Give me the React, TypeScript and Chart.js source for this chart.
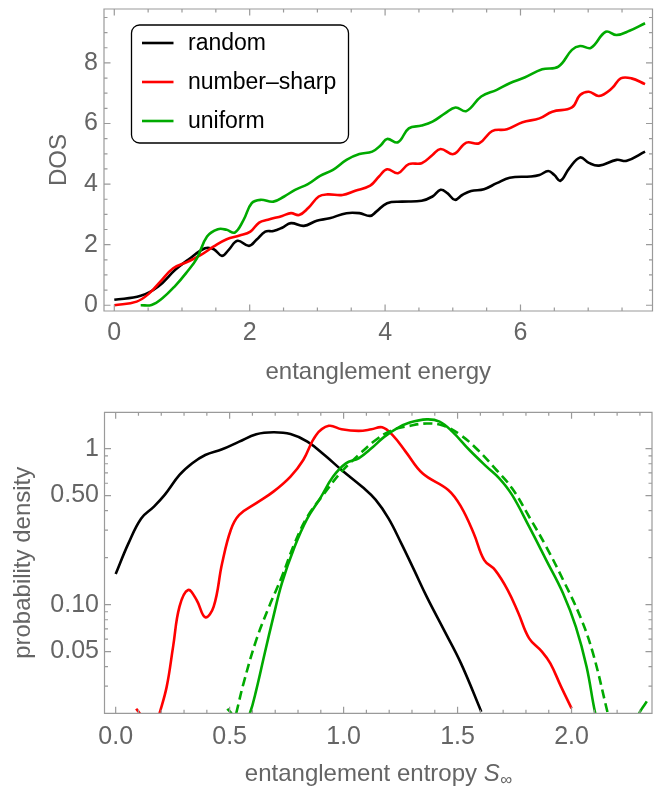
import React, { useEffect, useRef } from "react";
import { Chart, registerables } from "chart.js";

Chart.register(...registerables);

// ---------------- Top panel: density of states ----------------
const energyRandom = [0, 0.39, 0.65, 0.9, 1.09, 1.34, 1.47, 1.59, 1.69, 1.82, 1.99, 2.1, 2.23, 2.35, 2.48, 2.61, 2.8, 2.99, 3.18, 3.43, 3.62, 3.78, 3.87, 4.03, 4.25, 4.54, 4.7, 4.82, 4.92, 5.03, 5.14, 5.27, 5.46, 5.65, 5.84, 6.15, 6.28, 6.41, 6.5, 6.59, 6.72, 6.88, 7.01, 7.16, 7.42, 7.57, 7.84];
const dosRandom = [0.18, 0.31, 0.62, 1.17, 1.5, 1.88, 1.85, 1.63, 1.83, 2.13, 1.96, 2.16, 2.43, 2.45, 2.56, 2.71, 2.62, 2.79, 2.87, 3.04, 3.04, 2.95, 3.09, 3.37, 3.42, 3.45, 3.59, 3.81, 3.7, 3.48, 3.64, 3.77, 3.83, 4.03, 4.21, 4.25, 4.3, 4.43, 4.3, 4.11, 4.52, 4.88, 4.7, 4.61, 4.8, 4.77, 5.07];

const energySharp = [0, 0.33, 0.52, 0.68, 0.87, 1.09, 1.28, 1.47, 1.66, 1.85, 2.01, 2.14, 2.27, 2.48, 2.61, 2.73, 2.86, 3.02, 3.15, 3.37, 3.56, 3.78, 3.91, 4.03, 4.19, 4.35, 4.54, 4.7, 4.82, 5.01, 5.2, 5.39, 5.58, 5.8, 6.03, 6.28, 6.47, 6.76, 6.88, 7.01, 7.16, 7.35, 7.48, 7.64, 7.84];
const dosSharp = [0.0, 0.12, 0.4, 0.78, 1.22, 1.44, 1.66, 1.94, 2.18, 2.3, 2.43, 2.73, 2.82, 2.95, 3.04, 2.98, 3.2, 3.59, 3.66, 3.64, 3.78, 3.95, 4.25, 4.49, 4.36, 4.66, 4.69, 4.96, 5.16, 4.99, 5.37, 5.35, 5.75, 5.81, 6.04, 6.17, 6.39, 6.53, 6.94, 7.05, 6.91, 7.16, 7.49, 7.49, 7.3];

const energyUniform = [0.39, 0.55, 0.71, 0.9, 1.06, 1.22, 1.37, 1.53, 1.66, 1.78, 1.91, 2.03, 2.16, 2.35, 2.51, 2.67, 2.86, 3.04, 3.23, 3.43, 3.62, 3.81, 3.94, 4.03, 4.19, 4.35, 4.54, 4.7, 4.89, 5.04, 5.2, 5.42, 5.65, 5.84, 6.06, 6.32, 6.56, 6.76, 6.88, 7.04, 7.26, 7.42, 7.61, 7.84];
const dosUniform = [0.0, 0.01, 0.23, 0.64, 1.06, 1.55, 2.27, 2.51, 2.49, 2.4, 2.82, 3.37, 3.48, 3.42, 3.59, 3.81, 4.0, 4.27, 4.47, 4.8, 4.99, 5.07, 5.29, 5.49, 5.38, 5.84, 5.93, 6.06, 6.34, 6.53, 6.41, 6.89, 7.11, 7.33, 7.52, 7.79, 7.88, 8.43, 8.56, 8.5, 9.03, 8.92, 9.06, 9.31];

const energyTicks = [0, 2, 4, 6];
const energyMinorTicks = [0.5, 1, 1.5, 2.5, 3, 3.5, 4.5, 5, 5.5, 6.5, 7, 7.5];
const dosTicks = [0, 2, 4, 6, 8];
const dosMinorTicks = [0.5, 1, 1.5, 2.5, 3, 3.5, 4.5, 5, 5.5, 6.5, 7, 7.5, 8.5, 9, 9.5];

// ---------------- Bottom panel: entropy distribution ----------------
const entropyRandom = [0, 0.056, 0.112, 0.168, 0.215, 0.28, 0.336, 0.393, 0.467, 0.542, 0.617, 0.692, 0.767, 0.841, 0.916, 0.991, 1.084, 1.141, 1.197, 1.253, 1.309, 1.365, 1.44, 1.515, 1.604];
const densityRandom = [0.157, 0.247, 0.357, 0.425, 0.505, 0.678, 0.805, 0.91, 0.99, 1.109, 1.236, 1.273, 1.24, 1.109, 0.91, 0.73, 0.565, 0.469, 0.357, 0.247, 0.167, 0.112, 0.0688, 0.042, 0.0206];

const entropySharp = [0.09, 0.11, 0.15, 0.19, 0.224, 0.252, 0.28, 0.318, 0.355, 0.393, 0.43, 0.467, 0.505, 0.542, 0.617, 0.692, 0.767, 0.823, 0.879, 0.935, 0.991, 1.066, 1.122, 1.169, 1.215, 1.272, 1.346, 1.459, 1.515, 1.571, 1.617, 1.664, 1.72, 1.767, 1.814, 1.87, 1.907, 1.954, 2.0];
const densitySharp = [0.0215, 0.0195, 0.012, 0.0195, 0.0298, 0.0538, 0.097, 0.124, 0.107, 0.083, 0.097, 0.184, 0.301, 0.376, 0.447, 0.53, 0.662, 0.846, 1.22, 1.4, 1.33, 1.3, 1.33, 1.37, 1.22, 0.957, 0.695, 0.543, 0.425, 0.286, 0.193, 0.167, 0.124, 0.088, 0.0608, 0.05, 0.042, 0.0298, 0.0216];

const entropyUniform = [0.49, 0.51, 0.55, 0.589, 0.617, 0.654, 0.692, 0.729, 0.785, 0.841, 0.897, 0.954, 1.01, 1.066, 1.122, 1.178, 1.234, 1.29, 1.365, 1.421, 1.477, 1.552, 1.627, 1.683, 1.739, 1.814, 1.889, 1.963, 2.019, 2.066, 2.104, 2.2, 2.29, 2.33];
const densityUniform = [0.0215, 0.0198, 0.015, 0.0201, 0.0284, 0.0488, 0.0838, 0.137, 0.235, 0.357, 0.48, 0.662, 0.805, 0.867, 1.005, 1.19, 1.35, 1.47, 1.54, 1.49, 1.285, 0.98, 0.767, 0.645, 0.505, 0.316, 0.193, 0.118, 0.072, 0.04, 0.0201, 0.005, 0.019, 0.024];

const entropyUniformFit = [0.529, 0.561, 0.617, 0.673, 0.729, 0.785, 0.841, 0.916, 0.991, 1.066, 1.141, 1.215, 1.29, 1.365, 1.44, 1.514, 1.589, 1.664, 1.739, 1.814, 1.889, 1.963, 2.038, 2.094, 2.159];
const densityUniformFit = [0.0201, 0.0313, 0.0594, 0.097, 0.151, 0.247, 0.366, 0.517, 0.712, 0.91, 1.137, 1.318, 1.4, 1.45, 1.4, 1.22, 0.98, 0.748, 0.557, 0.366, 0.235, 0.144, 0.0838, 0.0488, 0.0201];

const entropyTicks = [0, 0.5, 1, 1.5, 2];
const entropyMinorTicks = [0.1, 0.2, 0.3, 0.4, 0.6, 0.7, 0.8, 0.9, 1.1, 1.2, 1.3, 1.4, 1.6, 1.7, 1.8, 1.9, 2.1, 2.2, 2.3];
const densityTicks = [0.05, 0.1, 0.5, 1];
const densityTickLabels = ["0.05", "0.10", "0.50", "1"];
const densityMinorTicks = [0.03, 0.04, 0.06, 0.07, 0.08, 0.09, 0.2, 0.3, 0.4, 0.6, 0.7, 0.8, 0.9];

const seriesLabels = ["random", "number\u2013sharp", "uniform"];

// ---------------- Styling ----------------
const FONT = '"Liberation Sans", Arial, Helvetica, sans-serif';
const TEXT = "#656565";
const FRAME = "#9a9a9a";
const BLACK = "#000000";
const RED = "#ff0000";
const GREEN = "#00aa00";
const TICK_SIZE = 25;
const TITLE_SIZE = 24;

Chart.defaults.font.family = FONT;

const toPoints = (xs: number[], ys: number[]) => xs.map((x, i) => ({ x, y: ys[i] }));

const noPad = (s: any) => {
  s.paddingTop = 0;
  s.paddingBottom = 0;
  s.paddingLeft = 0;
  s.paddingRight = 0;
};

const frameTicksPlugin = {
  id: "frameTicks",
  afterDatasetsDraw(chart: any, _args: any, opts: any) {
    const { ctx, chartArea: a, scales } = chart;
    const xs = scales.x;
    const ys = scales.y;
    ctx.save();
    ctx.strokeStyle = FRAME;
    ctx.lineWidth = 1.2;
    ctx.beginPath();
    ctx.rect(a.left, a.top, a.right - a.left, a.bottom - a.top);
    ctx.stroke();
    const drawX = (vals: number[], len: number) => {
      for (const v of vals) {
        const p = xs.getPixelForValue(v);
        ctx.beginPath();
        ctx.moveTo(p, a.bottom);
        ctx.lineTo(p, a.bottom - len);
        ctx.moveTo(p, a.top);
        ctx.lineTo(p, a.top + len);
        ctx.stroke();
      }
    };
    const drawY = (vals: number[], len: number) => {
      for (const v of vals) {
        const p = ys.getPixelForValue(v);
        ctx.beginPath();
        ctx.moveTo(a.left, p);
        ctx.lineTo(a.left + len, p);
        ctx.moveTo(a.right, p);
        ctx.lineTo(a.right - len, p);
        ctx.stroke();
      }
    };
    drawX(opts.xMajor || [], 6.5);
    drawX(opts.xMinor || [], 3.5);
    drawY(opts.yMajor || [], 6.5);
    drawY(opts.yMinor || [], 3.5);
    ctx.restore();
  },
};

const boxLegendPlugin = {
  id: "boxLegend",
  afterDraw(chart: any, _args: any, opts: any) {
    if (!opts || !opts.display) return;
    const { ctx, chartArea: a } = chart;
    const bx = a.left + opts.offsetX;
    const by = a.top + opts.offsetY;
    const bw = opts.width;
    const bh = opts.height;
    ctx.save();
    ctx.fillStyle = "#ffffff";
    ctx.strokeStyle = "#000000";
    ctx.lineWidth = 1.3;
    ctx.beginPath();
    ctx.roundRect(bx, by, bw, bh, 8);
    ctx.fill();
    ctx.stroke();
    ctx.font = `${opts.fontSize}px ${FONT}`;
    ctx.textBaseline = "middle";
    ctx.textAlign = "left";
    chart.data.datasets.forEach((ds: any, i: number) => {
      const cy = by + opts.firstRow + i * opts.rowGap;
      ctx.strokeStyle = ds.borderColor;
      ctx.lineWidth = 2.6;
      ctx.beginPath();
      ctx.moveTo(bx + 10.5, cy);
      ctx.lineTo(bx + 42, cy);
      ctx.stroke();
      ctx.fillStyle = "#000000";
      ctx.fillText(ds.label, bx + 56.5, cy + 1);
    });
    ctx.restore();
  },
};

const entropyTitlePlugin = {
  id: "entropyTitle",
  afterDraw(chart: any, _args: any, opts: any) {
    if (!opts || !opts.display) return;
    const { ctx, chartArea: a } = chart;
    const size = opts.fontSize;
    const main = "entanglement entropy ";
    ctx.save();
    ctx.fillStyle = TEXT;
    ctx.textBaseline = "alphabetic";
    ctx.textAlign = "left";
    ctx.font = `${size}px ${FONT}`;
    const w1 = ctx.measureText(main).width;
    ctx.font = `italic ${size}px ${FONT}`;
    const w2 = ctx.measureText("S").width;
    ctx.font = `${size * 0.7}px ${FONT}`;
    const w3 = ctx.measureText("\u221e").width;
    const total = w1 + w2 + w3;
    const cx = (a.left + a.right) / 2;
    let x = cx - total / 2;
    const base = a.bottom + opts.baselineOffset;
    ctx.font = `${size}px ${FONT}`;
    ctx.fillText(main, x, base);
    x += w1;
    ctx.font = `italic ${size}px ${FONT}`;
    ctx.fillText("S", x, base);
    x += w2;
    ctx.font = `${size * 0.7}px ${FONT}`;
    ctx.fillText("\u221e", x + 0.5, base + 4);
    ctx.restore();
  },
};

const lineDs = (label: string, xs: number[], ys: number[], color: string, order: number, dash?: number[]) => ({
  label,
  data: toPoints(xs, ys),
  borderColor: color,
  backgroundColor: color,
  borderWidth: 2.6,
  borderDash: dash || [],
  pointRadius: 0,
  tension: 0.4,
  fill: false,
  order,
  clip: 0,
});

export default function App() {
  const topRef = useRef<HTMLCanvasElement | null>(null);
  const bottomRef = useRef<HTMLCanvasElement | null>(null);

  useEffect(() => {
    if (!topRef.current || !bottomRef.current) return;

    const top = new Chart(topRef.current, {
      type: "line",
      data: {
        datasets: [
          lineDs(seriesLabels[0], energyRandom, dosRandom, BLACK, 3),
          lineDs(seriesLabels[1], energySharp, dosSharp, RED, 2),
          lineDs(seriesLabels[2], energyUniform, dosUniform, GREEN, 1),
        ],
      },
      options: {
        animation: false,
        responsive: false,
        maintainAspectRatio: false,
        events: [],
        layout: { padding: { left: 0, right: 16.5, top: 9, bottom: 0 } },
        plugins: {
          legend: { display: false },
          tooltip: { enabled: false },
          frameTicks: { xMajor: energyTicks, xMinor: energyMinorTicks, yMajor: dosTicks, yMinor: dosMinorTicks },
          boxLegend: { display: true, offsetX: 27.5, offsetY: 16, width: 217, height: 118, firstRow: 18, rowGap: 39, fontSize: 23 },
        } as any,
        scales: {
          x: {
            type: "linear",
            min: -0.152,
            max: 7.95,
            grid: { display: false, drawTicks: false, tickLength: 0 },
            border: { display: false },
            afterBuildTicks: (s: any) => {
              s.ticks = energyTicks.map((v) => ({ value: v }));
            },
            afterFit: (s: any) => {
              s.height = 89;
              noPad(s);
            },
            ticks: { color: TEXT, font: { size: TICK_SIZE }, padding: 7.5, maxRotation: 0, autoSkip: false, callback: (v: any) => String(v) },
            title: { display: true, text: "entanglement energy", color: TEXT, font: { size: TITLE_SIZE }, padding: { top: 0, bottom: 13 } },
          },
          y: {
            type: "linear",
            min: -0.19,
            max: 9.78,
            grid: { display: false, drawTicks: false, tickLength: 0 },
            border: { display: false },
            afterBuildTicks: (s: any) => {
              s.ticks = dosTicks.map((v) => ({ value: v }));
            },
            afterFit: (s: any) => {
              s.width = 104;
              noPad(s);
            },
            ticks: { color: TEXT, font: { size: TICK_SIZE }, padding: 6, autoSkip: false, callback: (v: any) => String(v) },
            title: { display: true, text: "DOS", color: TEXT, font: { size: TITLE_SIZE }, padding: { top: 45, bottom: 0 } },
          },
        },
      },
      plugins: [frameTicksPlugin, boxLegendPlugin],
    } as any);

    const bottom = new Chart(bottomRef.current, {
      type: "line",
      data: {
        datasets: [
          lineDs(seriesLabels[0], entropyRandom, densityRandom, BLACK, 4),
          lineDs(seriesLabels[1], entropySharp, densitySharp, RED, 3),
          lineDs(seriesLabels[2], entropyUniform, densityUniform, GREEN, 2),
          lineDs(seriesLabels[2] + " (fit)", entropyUniformFit, densityUniformFit, GREEN, 1, [9, 5]),
        ],
      },
      options: {
        animation: false,
        responsive: false,
        maintainAspectRatio: false,
        events: [],
        layout: { padding: { left: 0, right: 17, top: 12.3, bottom: 0 } },
        plugins: {
          legend: { display: false },
          tooltip: { enabled: false },
          frameTicks: { xMajor: entropyTicks, xMinor: entropyMinorTicks, yMajor: densityTicks, yMinor: densityMinorTicks },
          entropyTitle: { display: true, fontSize: TITLE_SIZE, baselineOffset: 68 },
        } as any,
        scales: {
          x: {
            type: "linear",
            min: -0.049,
            max: 2.353,
            grid: { display: false, drawTicks: false, tickLength: 0 },
            border: { display: false },
            afterBuildTicks: (s: any) => {
              s.ticks = entropyTicks.map((v) => ({ value: v }));
            },
            afterFit: (s: any) => {
              s.height = 77.7;
              noPad(s);
            },
            ticks: { color: TEXT, font: { size: TICK_SIZE }, padding: 8.5, maxRotation: 0, autoSkip: false, callback: (v: any) => Number(v).toFixed(1) },
          },
          y: {
            type: "logarithmic",
            min: 0.0201,
            max: 1.71,
            grid: { display: false, drawTicks: false, tickLength: 0 },
            border: { display: false },
            afterBuildTicks: (s: any) => {
              s.ticks = densityTicks.map((v) => ({ value: v }));
            },
            afterFit: (s: any) => {
              s.width = 104.5;
              noPad(s);
            },
            ticks: {
              color: TEXT,
              font: { size: TICK_SIZE },
              padding: 5.5,
              autoSkip: false,
              callback: (v: any) => {
                const i = densityTicks.findIndex((t) => Math.abs(t - Number(v)) < 1e-9);
                return i >= 0 ? densityTickLabels[i] : "";
              },
            },
            title: { display: true, text: "probability density", color: TEXT, font: { size: TITLE_SIZE }, padding: { top: 9, bottom: 0 } },
          },
        },
      },
      plugins: [frameTicksPlugin, entropyTitlePlugin],
    } as any);

    return () => {
      top.destroy();
      bottom.destroy();
    };
  }, []);

  return (
    <div style={{ position: "absolute", left: 0, top: 0, width: 669, height: 791, background: "#ffffff" }}>
      <canvas ref={topRef} width={669} height={400} style={{ display: "block", width: 669, height: 400 }} />
      <canvas ref={bottomRef} width={669} height={391} style={{ display: "block", width: 669, height: 391 }} />
    </div>
  );
}
